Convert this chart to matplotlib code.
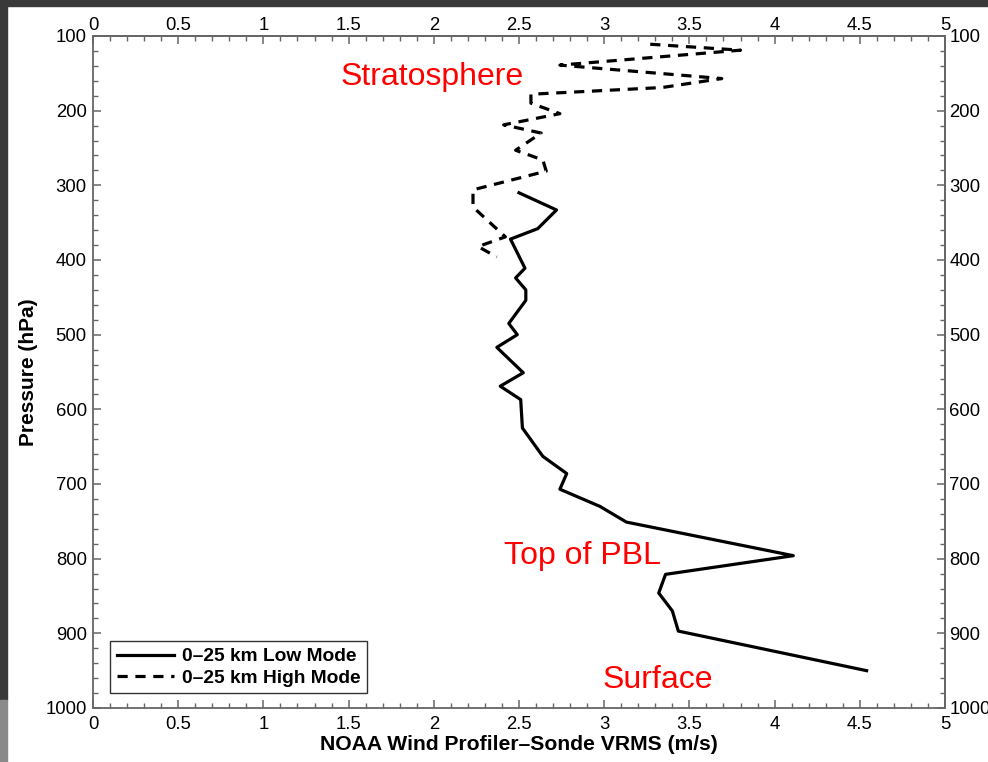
import matplotlib
matplotlib.use('Agg')
import matplotlib.pyplot as plt
from matplotlib.patches import Rectangle
from matplotlib.ticker import MultipleLocator

plt.rcParams['font.family'] = ['Liberation Sans', 'DejaVu Sans']

# Low mode profile (solid line): pressure levels (hPa) and VRMS (m/s)
low_p = [310, 333, 358, 372, 411, 424, 440, 454, 485, 500, 517, 551, 569,
         587, 625, 663, 686, 707, 730, 751, 796, 821, 846, 870, 897, 950]
low_v = [2.50, 2.72, 2.61, 2.45, 2.535, 2.48, 2.54, 2.54, 2.44, 2.49, 2.37,
         2.525, 2.39, 2.51, 2.52, 2.64, 2.78, 2.74, 2.975, 3.13, 4.11, 3.36,
         3.32, 3.40, 3.435, 4.54]

# High mode profile (dashed line)
high_p = [111, 119, 139, 157, 169, 178, 190, 204, 219, 230, 253, 266, 281,
          306, 329, 369, 382, 396]
high_v = [3.27, 3.80, 2.74, 3.69, 3.34, 2.57, 2.57, 2.74, 2.41, 2.63, 2.48,
          2.64, 2.66, 2.23, 2.23, 2.42, 2.26, 2.37]

labels = ['0\u201325 km Low Mode', '0\u201325 km High Mode']

# annotations: (text, x, pressure)
notes = [('Stratosphere', 1.45, 155),
         ('Top of PBL', 2.41, 796),
         ('Surface', 2.99, 962)]

fig = plt.figure(figsize=(9.88, 7.62), dpi=100)
fig.patch.set_facecolor('white')

# dark screenshot frame on top and left
fig.add_artist(Rectangle((0, 1 - 6 / 762), 1, 6 / 762, transform=fig.transFigure,
                         color='#393939', zorder=0))
fig.add_artist(Rectangle((0, 62 / 762), 7 / 988, 1, transform=fig.transFigure,
                         color='#393939', zorder=0))
fig.add_artist(Rectangle((0, 0), 7 / 988, 62 / 762, transform=fig.transFigure,
                         color='#8a8a8a', zorder=0))

ax = fig.add_axes([93 / 988, 1 - 708 / 762, 852 / 988, 672 / 762])

ax.plot(low_v, low_p, color='black', lw=2.3, label=labels[0])
ax.plot(high_v, high_p, color='black', lw=2.3, linestyle=(0, (3.2, 2.4)),
        label=labels[1])

ax.set_xlim(0, 5)
ax.set_ylim(1000, 100)

gray = '#666666'
fs = 13.3
for s in ax.spines.values():
    s.set_color(gray)
    s.set_linewidth(1.3)

ax.xaxis.set_major_locator(MultipleLocator(0.5))
ax.xaxis.set_minor_locator(MultipleLocator(0.1))
ax.yaxis.set_major_locator(MultipleLocator(100))
ax.yaxis.set_minor_locator(MultipleLocator(20))
ax.xaxis.set_major_formatter(lambda v, pos: f'{v:g}')

ax.tick_params(which='both', direction='in', color=gray, labelsize=fs,
               top=False, right=False)
ax.tick_params(which='major', length=6, width=1.1)
ax.tick_params(which='minor', length=3.5, width=1.0)
ax.tick_params(axis='x', pad=6)
ax.tick_params(axis='y', pad=4.5)

secx = ax.secondary_xaxis('top')
secx.xaxis.set_major_locator(MultipleLocator(0.5))
secx.xaxis.set_minor_locator(MultipleLocator(0.1))
secx.xaxis.set_major_formatter(lambda v, pos: f'{v:g}')
secx.tick_params(which='both', direction='in', color=gray, labelsize=fs, pad=1.5)
secx.tick_params(which='major', length=6, width=1.1)
secx.tick_params(which='minor', length=3.5, width=1.0)
secx.spines['top'].set_color(gray)
secx.spines['top'].set_linewidth(1.3)

secy = ax.secondary_yaxis('right')
secy.yaxis.set_major_locator(MultipleLocator(100))
secy.yaxis.set_minor_locator(MultipleLocator(20))
secy.tick_params(which='both', direction='in', color=gray, labelsize=fs, pad=3)
secy.tick_params(which='major', length=6, width=1.1)
secy.tick_params(which='minor', length=3.5, width=1.0)
secy.spines['right'].set_color(gray)
secy.spines['right'].set_linewidth(1.3)

ax.set_xlabel('NOAA Wind Profiler\u2013Sonde VRMS (m/s)', fontsize=15.2,
              fontweight='bold', labelpad=1)
ax.set_ylabel('Pressure (hPa)', fontsize=15, fontweight='bold', labelpad=5)

for txt, x, p in notes:
    ax.text(x, p, txt, color='red', fontsize=23, ha='left', va='center')

leg = ax.legend(loc='lower left', bbox_to_anchor=(0.02, 0.022),
                prop={'weight': 'bold', 'size': 13.8}, frameon=True, fancybox=False,
                edgecolor='black', handlelength=3.0, handletextpad=0.4,
                borderpad=0.35, labelspacing=0.2, borderaxespad=0)
leg.get_frame().set_linewidth(1.0)

fig.savefig('out.png', dpi=100)
